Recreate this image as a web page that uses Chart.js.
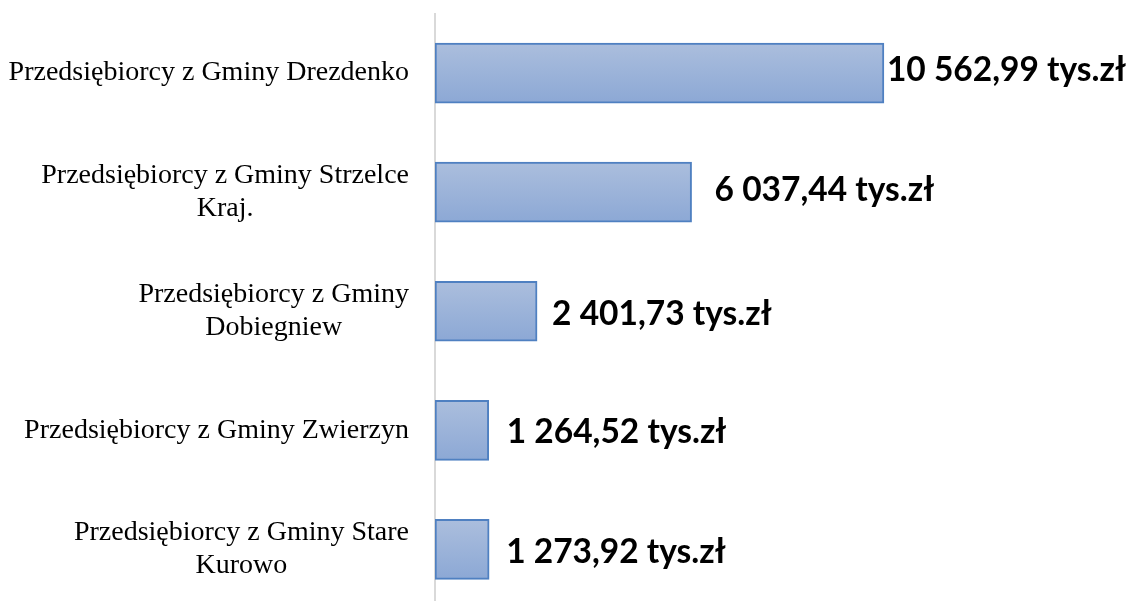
<!DOCTYPE html>
<html>
<head>
<meta charset="utf-8">
<script src="https://cdn.jsdelivr.net/npm/chart.js@4.4.1/dist/chart.umd.min.js"></script>
<style>
    html, body { margin: 0; padding: 0; background: #fff; overflow: hidden; }
    #wrap { position: relative; width: 1130px; height: 609px; }
</style>
</head>
<body>
<div id="wrap"><canvas id="przedsiebiorcyChart"></canvas></div>
<script>
const categories = [
    ['Przedsiębiorcy z Gminy Drezdenko'],
    ['Przedsiębiorcy z Gminy Strzelce', 'Kraj.'],
    ['Przedsiębiorcy z Gminy', 'Dobiegniew'],
    ['Przedsiębiorcy z Gminy Zwierzyn'],
    ['Przedsiębiorcy z Gminy Stare', 'Kurowo']
];
const values = [10562.99, 6037.44, 2401.73, 1264.52, 1273.92];
const unit = 'tys.zł';

// 10562.99 -> "10 562,99"
function plNumber(v) {
    let parts = v.toFixed(2).split('.');
    let whole = parts[0].replace(/\B(?=(\d{3})+(?!\d))/g, ' ');
    return whole + ',' + parts[1];
}

const chartID = document.getElementById('przedsiebiorcyChart');

// category labels: block right-aligned to the axis, lines centred inside the block
const categoryLabelsPlugin = {
    id: 'categoryLabels',
    afterDraw(chart, args, opts) {
        const ctx = chart.ctx;
        const yScale = chart.scales.y;
        ctx.save();
        ctx.font = opts.font;
        ctx.fillStyle = opts.color;
        ctx.textBaseline = 'middle';
        ctx.textAlign = 'center';
        chart.data.labels.forEach((lines, i) => {
            let maxW = Math.max(...lines.map(l => ctx.measureText(l).width));
            let cx = opts.right - maxW / 2;
            let cy = yScale.getPixelForValue(i);
            let top = cy - (lines.length - 1) * opts.lineHeight / 2;
            lines.forEach((l, j) => ctx.fillText(l, cx, top + j * opts.lineHeight));
        });
        ctx.restore();
    }
};

const valueLabelsPlugin = {
    id: 'valueLabels',
    afterDatasetsDraw(chart, args, opts) {
        const ctx = chart.ctx;
        const meta = chart.getDatasetMeta(0);
        ctx.save();
        ctx.font = opts.font;
        ctx.fillStyle = opts.color;
        ctx.textBaseline = 'middle';
        ctx.textAlign = 'left';
        meta.data.forEach((bar, i) => {
            let text = plNumber(chart.data.datasets[0].data[i]) + ' ' + unit;
            ctx.fillText(text, bar.x + opts.dx[i], bar.y + opts.dy[i]);
        });
        ctx.restore();
    }
};

function barGradient(context) {
    const chart = context.chart;
    const yScale = chart.scales.y;
    if (!chart.chartArea || !yScale) return '#9db3d9';
    let cy = yScale.getPixelForValue(context.dataIndex);
    let g = chart.ctx.createLinearGradient(0, cy - 30, 0, cy + 30);
    g.addColorStop(0, '#abbedd');
    g.addColorStop(1, '#8ca8d5');
    return g;
}

let chartData = {
    labels: categories,
    datasets: [{
        data: values,
        backgroundColor: barGradient,
        borderColor: '#4f80c1',
        borderWidth: 2,
        borderSkipped: false,
        barThickness: 60
    }]
};

let chartOptions = {
    indexAxis: 'y',
    responsive: true,
    maintainAspectRatio: false,
    animation: false,
    layout: {
        padding: { left: 435, right: 15, top: 13.5, bottom: 0 }
    },
    scales: {
        x: {
            display: false,
            min: 0,
            max: 16000
        },
        y: {
            ticks: { display: false },
            grid: { display: false, drawTicks: false },
            border: { display: true, color: '#d9d9d9', width: 2 }
        }
    },
    plugins: {
        legend: { display: false },
        tooltip: { enabled: false },
        categoryLabels: {
            font: '28px "Liberation Serif"',
            color: '#000',
            right: 409,
            lineHeight: 33
        },
        valueLabels: {
            font: 'bold 33.5px Lato',
            color: '#000',
            dx: [3, 23, 15, 18, 17],
            dy: [-3, -2, 3, 2, 3]
        }
    }
};

let przedsiebiorcyChart = new Chart(chartID, {
    type: 'bar',
    data: chartData,
    options: chartOptions,
    plugins: [categoryLabelsPlugin, valueLabelsPlugin]
});
</script>
</body>
</html>
